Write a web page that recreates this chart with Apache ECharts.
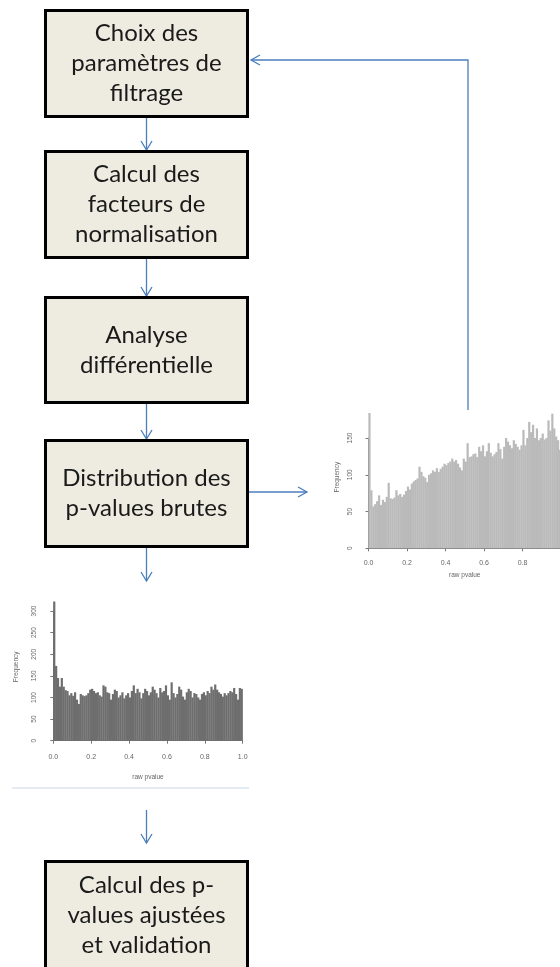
<!DOCTYPE html>
<html><head><meta charset="utf-8">
<script src="https://cdn.jsdelivr.net/npm/echarts@6/dist/echarts.min.js"></script>
<style>html,body{margin:0;padding:0;background:#fff}#c{width:560px;height:967px}</style>
</head><body><div id="c"></div>
<script>
// ---- data ----
const stepLabels = [
  "Choix des\nparamètres de\nfiltrage",
  "Calcul des\nfacteurs de\nnormalisation",
  "Analyse\ndifférentielle",
  "Distribution des\np-values brutes",
  "Calcul des p-\nvalues ajustées\net validation"
];
const binWidth = 0.01;
const xTickValues = [0, 0.2, 0.4, 0.6, 0.8, 1.0];
const xAxisTitle = "raw pvalue";
const yAxisTitle = "Frequency";
// histogram shown to the right (raw p-values, before re-filtering)
const freqRight = [184,79,57,60,64,72,59,66,63,70,89,68,67,69,79,72,74,70,73,78,
  84,80,88,91,93,95,111,104,98,96,90,100,102,106,104,109,104,108,111,115,
  113,116,118,122,118,120,115,110,106,122,118,143,124,125,128,129,124,138,132,140,
  125,132,143,130,125,128,131,143,135,122,138,150,145,140,136,147,142,138,134,140,
  161,140,150,172,158,168,150,163,147,150,156,148,150,174,160,183,163,152,147,134];
// histogram shown below (raw p-values, after filtering)
const freqBottom = [322,173,145,125,145,125,117,115,105,110,104,112,95,85,108,105,103,105,110,118,
  120,115,110,112,105,102,128,125,112,110,95,108,118,115,100,105,112,98,105,110,
  100,115,128,110,120,112,98,110,120,115,105,112,125,118,110,100,122,112,115,128,
  105,95,135,110,100,108,125,118,102,95,112,120,115,100,110,108,100,95,108,112,
  105,115,110,125,118,130,118,112,108,102,110,105,110,115,112,122,108,95,122,120];
const yMaxRight = 150, yMaxBottom = 300, yStep = 50;

// ---- layout ----
const boxX = 45.5, boxW = 202, cx = 146.5;
const boxes = [{y:10.5,h:106},{y:151.5,h:106},{y:297.5,h:105},{y:440.5,h:106},{y:861.5,h:120}];
const blue = '#4A7EBB';

const graphics = [];
boxes.forEach((b, i) => {
  graphics.push({type:'rect', shape:{x:boxX, y:b.y, width:boxW, height:b.h},
    style:{fill:'#EEECE1', stroke:'#000', lineWidth:3}, z:10});
  const ty = i === 4 ? 915 : b.y + b.h/2;
  graphics.push({type:'text', x:cx, y:ty, z:11, style:{text:stepLabels[i], fill:'#1a1a1a',
    font:'24px Lato', align:'center', verticalAlign:'middle', lineHeight:30}});
});
function arrowDown(x, y1, y2){
  graphics.push({type:'polyline', shape:{points:[[x,y1],[x,y2]]}, style:{stroke:blue, lineWidth:1.3, fill:null}, z:5});
  graphics.push({type:'polyline', shape:{points:[[x-5.5,y2-9],[x,y2],[x+5.5,y2-9]]}, style:{stroke:blue, lineWidth:1.3, fill:null}, z:5});
}
arrowDown(cx, 118, 150);
arrowDown(cx, 259, 296);
arrowDown(cx, 404, 439);
arrowDown(cx, 548, 581);
arrowDown(cx, 810, 843);
// right arrow to histogram
graphics.push({type:'polyline', shape:{points:[[248,492],[307,492]]}, style:{stroke:blue, lineWidth:1.3, fill:null}, z:5});
graphics.push({type:'polyline', shape:{points:[[298,487],[307,492],[298,497]]}, style:{stroke:blue, lineWidth:1.3, fill:null}, z:5});
// feedback arrow
graphics.push({type:'polyline', shape:{points:[[468,410],[468,60],[251,60]]}, style:{stroke:blue, lineWidth:1.3, fill:null}, z:5});
graphics.push({type:'polyline', shape:{points:[[260,55],[251,60],[260,65]]}, style:{stroke:blue, lineWidth:1.3, fill:null}, z:5});
// faint border line under lower histogram image
graphics.push({type:'line', shape:{x1:12, y1:788, x2:249, y2:788}, style:{stroke:'#e4ebf3', lineWidth:2}, z:1});

const toBins = arr => arr.map((v,i) => [(i+0.5)*binWidth, v]);
const axisGrey = '#777';
function xAx(gridIndex, offset, nameGap){
  return {type:'value', gridIndex, min:0, max:1, interval:0.2, offset,
    axisLine:{show:true, lineStyle:{color:axisGrey, width:1}},
    axisTick:{show:true, length:3, lineStyle:{color:axisGrey}},
    axisLabel:{fontSize:7, color:'#666', margin:6, fontFamily:'Liberation Sans', formatter:v=>v.toFixed(1), showMaxLabel: gridIndex===1},
    splitLine:{show:false},
    name:xAxisTitle, nameLocation:'middle', nameGap, nameTextStyle:{fontSize:6.5, color:'#666', fontFamily:'Liberation Sans'}};
}
function yAx(gridIndex, max, offset, nameGap, pad, margin){
  return {type:'value', gridIndex, min:0, max, interval:yStep, offset,
    axisLine:{show:true, lineStyle:{color:axisGrey, width:1}},
    axisTick:{show:true, length:3, lineStyle:{color:axisGrey}},
    axisLabel:{fontSize:6.5, color:'#666', rotate:90, margin, fontFamily:'Liberation Sans'},
    splitLine:{show:false},
    name:yAxisTitle, nameLocation:'middle', nameGap, nameTextStyle:{fontSize:6.5, color:'#666', fontFamily:'Liberation Sans', padding:[0,0,0,pad]}};
}

const option = {
  backgroundColor:'#fff',
  animation:false,
  grid:[
    {left:368.5, top:438, width:192.5, height:110.3, outerBoundsMode:'none', containLabel:false},
    {left:53.3, top:611, width:189.4, height:129.7, outerBoundsMode:'none', containLabel:false}
  ],
  xAxis:[xAx(0, 5, 18), xAx(1, 7, 26)],
  yAxis:[yAx(0, yMaxRight, 8.5, 19, 32, 6), yAx(1, yMaxBottom, 7, 27, 18, 9)],
  series:[
    {type:'bar', xAxisIndex:0, yAxisIndex:0, data:toBins(freqRight), barWidth:2.2, clip:false,
      itemStyle:{color:'#bababa'}, silent:true},
    {type:'bar', xAxisIndex:1, yAxisIndex:1, data:toBins(freqBottom), barWidth:2.2, clip:false,
      itemStyle:{color:'#6e6e6e'}, silent:true}
  ],
  graphic: graphics
};
const chart = echarts.init(document.getElementById('c'), null, {renderer:'canvas'});
chart.setOption(option);
</script></body></html>
